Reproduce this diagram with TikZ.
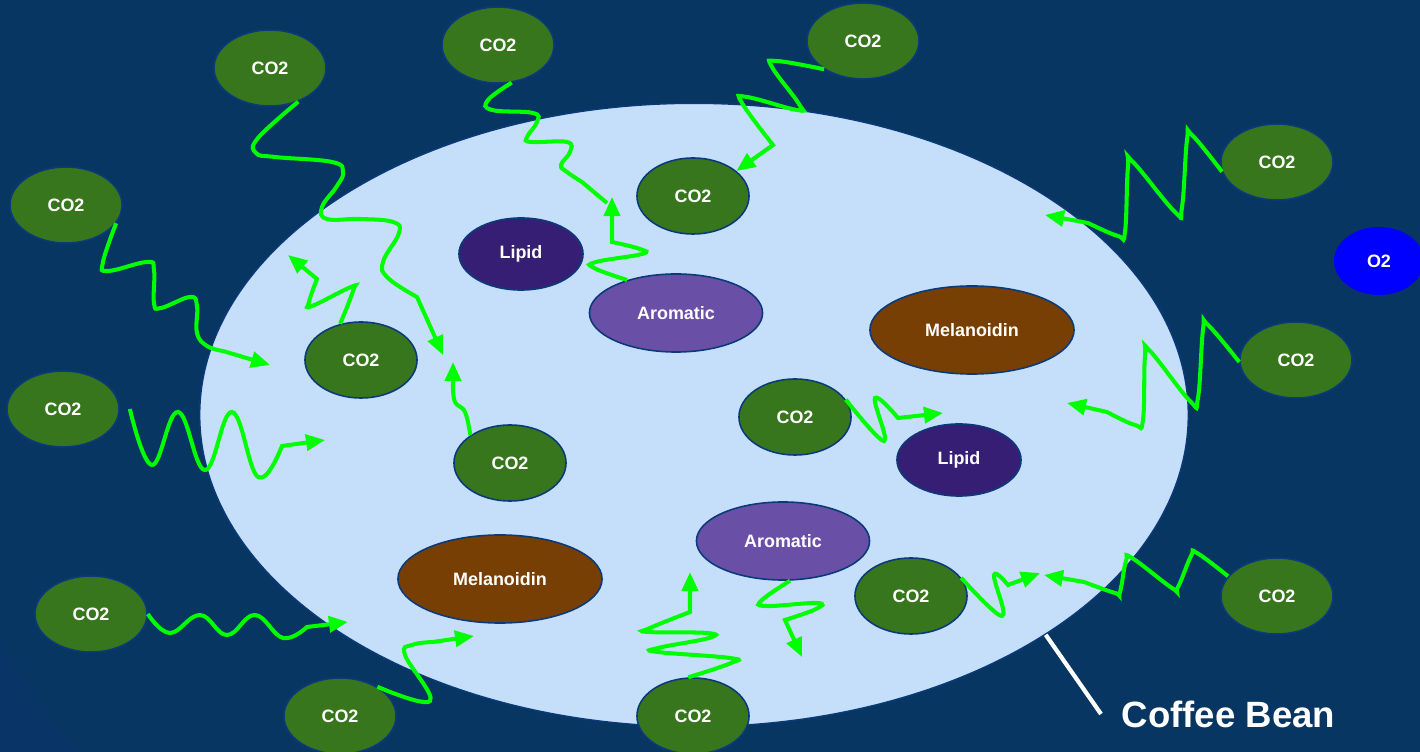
\documentclass[tikz,border=0pt]{standalone}
\usepackage{fontspec}
\setmainfont{Liberation Sans}
\usetikzlibrary{shapes.geometric,arrows.meta}
\definecolor{bgblue}{HTML}{083662}
\definecolor{cornerblue}{HTML}{093468}
\definecolor{beanblue}{HTML}{C5DFFA}
\definecolor{rimblue}{HTML}{0B3A7A}
\definecolor{co2green}{HTML}{38761D}
\definecolor{lipidpurple}{HTML}{361E74}
\definecolor{aromaticpurple}{HTML}{6A4FA7}
\definecolor{melabrown}{HTML}{783F04}
\definecolor{wavegreen}{HTML}{00FF00}
\tikzset{
	mol/.style={ellipse, draw=rimblue, line width=0.45pt, text=white, inner sep=0pt,
		font=\fontsize{5.1}{6}\selectfont\bfseries},
	co2/.style={mol, fill=co2green, minimum width=1.12cm, minimum height=0.76cm},
	lipid/.style={mol, fill=lipidpurple, minimum width=1.24cm, minimum height=0.72cm},
	aromatic/.style={mol, fill=aromaticpurple, minimum width=1.73cm, minimum height=0.78cm},
	melanoidin/.style={mol, fill=melabrown, minimum width=2.04cm, minimum height=0.88cm},
	wave/.style={wavegreen, line width=1.15pt, -{Triangle[length=0.19cm,width=0.16cm]}},
	wiggle/.style={smooth, tension=0.7},
}

\begin{document}
\begin{tikzpicture}[x=0.01cm,y=-0.01cm]
	\useasboundingbox (0,0) rectangle (1420,752);
	\clip (0,0) rectangle (1420,752);
	\fill[bgblue] (0,0) rectangle (1420,752);
	\fill[cornerblue] (0,643) .. controls (28,688) and (52,722) .. (78,752) -- (0,752) -- cycle;
	%% 咖啡豆
	\node[ellipse, fill=beanblue, draw=rimblue, line width=0.4pt, inner sep=0pt,
		minimum width=9.88cm, minimum height=6.23cm] (bean) at (694,415) {};
	\node[anchor=west, inner sep=0.2cm, text=white, font=\fontsize{10.4}{12}\selectfont\bfseries] (cb) at (1101,714) {Coffee Bean};
	\draw[white, line width=1.2pt] (bean.-32) -- (cb.west);
	%% 外部 CO2
	\node[co2] (o1) at (270,68) {CO2};
	\node[co2] (o2) at (498,45) {CO2};
	\node[co2] (o3) at (863,41) {CO2};
	\node[co2] (o4) at (66,205) {CO2};
	\node[co2] (o5) at (1277,162) {CO2};
	\node[co2] (o6) at (63,409) {CO2};
	\node[co2] (o7) at (1296,360) {CO2};
	\node[co2] (o8) at (91,614) {CO2};
	\node[co2] (o9) at (1277,596) {CO2};
	\node[co2] (o10) at (340,716) {CO2};
	\node[co2] (o11) at (693,716) {CO2};
	\node[mol, fill=blue, draw=none, minimum width=0.9cm, minimum height=0.68cm] (ox) at (1379,261) {O2};
	%% 内部分子
	\node[co2] (i1) at (693,196) {CO2};
	\node[co2] (i2) at (361,360) {CO2};
	\node[co2] (i3) at (510,463) {CO2};
	\node[co2] (i4) at (795,417) {CO2};
	\node[co2] (i5) at (911,596) {CO2};
	\node[lipid] (l1) at (521,254) {Lipid};
	\node[lipid] (l2) at (959,460) {Lipid};
	\node[aromatic] (a1) at (676,313) {Aromatic};
	\node[aromatic] (a2) at (783,541) {Aromatic};
	\node[melanoidin] (m1) at (972,330) {Melanoidin};
	\node[melanoidin] (m2) at (500,579) {Melanoidin};
	%% 箭头终点
	\coordinate (e1) at (443,355);
	\coordinate (e2) at (607,203);
	\coordinate (e3) at (612,197);
	\coordinate (e5) at (1045,215);
	\coordinate (e6) at (1067,403);
	\coordinate (e7) at (270,365);
	\coordinate (e8) at (325,440);
	\coordinate (e9) at (288,255);
	\coordinate (e10) at (453,362);
	\coordinate (e11) at (348,622);
	\coordinate (e12) at (474,636);
	\coordinate (e13) at (690,572);
	\coordinate (e14) at (802,657);
	\coordinate (e15) at (943,413);
	\coordinate (e16) at (1040,573);
	\coordinate (e17) at (1044,575);
	%% 波浪箭头
	\draw[wave] plot[wiggle] coordinates {(o1.-50) (258,138) (256,153) (275,157) (332,162) (343,172) (337,186) (322,207) (327,219) (360,219) (393,222) (399,233) (383,262) (388,278) (417,297)} -- (e1);
	\draw[wave, -] plot[wiggle] coordinates {(o2.-70) (488,100) (492,110) (533,113) (537,122) (527,137) (531,142) (567,142) (570,152) (561,165) (567,172) (582,182)} -- (e2);
	\draw[wave] plot[wiggle] coordinates {(a1.146) (594,268) (596,262) (642,254) (640,249) (612,242)} -- (e3);
	\draw[wave] plot[wiggle] coordinates {(o3.216) (777,61) (772,67) (799,104) (797,110) (747,97) (742,103) (773,145)} -- (i1.30);
	\draw[wave] plot[wiggle] coordinates {(o5.190) (1192,135) (1187,140) (1182,207) (1175,212) (1133,162) (1128,167) (1125,232) (1118,236) (1088,223)} -- (e5);
	\draw[wave] plot[wiggle] coordinates {(o7.182) (1208,325) (1203,330) (1198,398) (1190,401) (1150,351) (1145,356) (1143,420) (1135,425) (1107,412)} -- (e6);
	\draw[wave] plot[wiggle] coordinates {(o4.-20) (103,262) (108,271) (147,262) (154,270) (154,303) (161,308) (190,297) (197,306) (197,333) (207,346) (223,351)} -- (e7);
	\draw[wave] plot[wiggle] coordinates {([xshift=0.1cm]o6.east) (152,465) (178,412) (205,470) (232,412) (258,477) (282,446)} -- (e8);
	\draw[wave] plot[wiggle] coordinates {(i2.120) (353,291) (351,287) (312,306) (309,302) (317,279)} -- (e9);
	\draw[wave] plot[wiggle] coordinates {(i3.145) (465,412) (455,402) (453,385)} -- (e10);
	\draw[wave] plot[wiggle] coordinates {(o8.east) (170,633) (200,615) (227,635) (255,615) (283,638) (307,627)} -- (e11);
	\draw[wave] plot[wiggle] coordinates {(o10.38) (430,701) (405,655) (412,645) (433,642)} -- (e12);
	\draw[wave] plot[wiggle] coordinates {(o11.97) (731,663) (730,658) (658,652) (658,648) (709,638) (707,633) (648,632) (650,628) (690,612)} -- (e13);
	\draw[wave] plot[wiggle] coordinates {(a2.-80) (762,600) (766,606) (817,603) (816,609) (785,620)} -- (e14);
	\draw[wave] plot[wiggle] coordinates {(i4.19) (884,441) (875,398) (898,418)} -- (e15);
	\draw[wave] plot[wiggle] coordinates {(i5.20) (1002,616) (994,575) (1008,585)} -- (e16);
	\draw[wave] plot[wiggle] coordinates {(o9.158) (1197,553) (1191,556) (1178,587) (1172,588) (1132,558) (1126,561) (1120,592) (1115,593) (1084,582)} -- (e17);
\end{tikzpicture}
\end{document}
